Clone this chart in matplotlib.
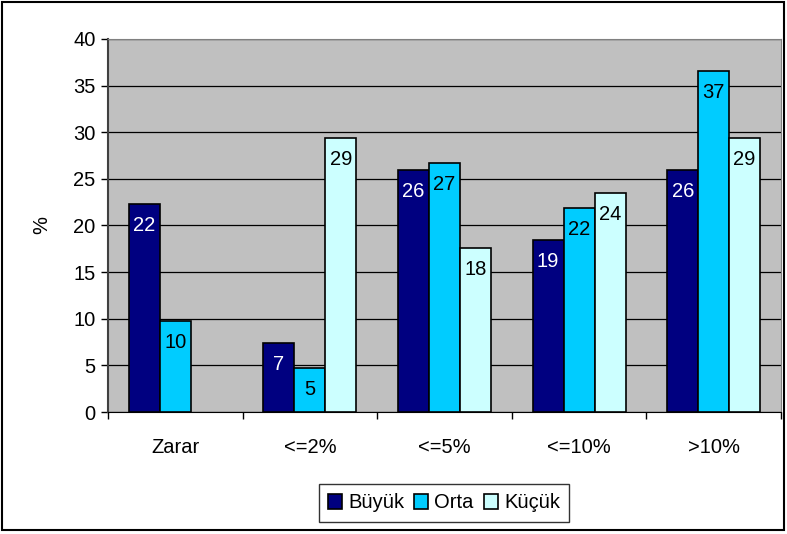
import numpy as np
import matplotlib
matplotlib.use("Agg")
import matplotlib.pyplot as plt
from matplotlib.patches import Rectangle

# ── Data ──────────────────────────────────────────────────────────────────────
categories = ["Zarar", "<=2%", "<=5%", "<=10%", ">10%"]
series     = ["Büyük", "Orta", "Küçük"]
buyuk = [22.3, 7.4, 25.9, 18.4, 25.9]
orta  = [9.8, 4.7, 26.7, 21.9, 36.6]
kucuk = [np.nan, 29.4, 17.6, 23.5, 29.4]   # no bar for Zarar
labels_buyuk = ["22", "7", "26", "19", "26"]
labels_orta  = ["10", "5", "27", "22", "37"]
labels_kucuk = ["", "29", "18", "24", "29"]

colors      = ["#000080", "#00CCFF", "#CCFFFF"]
text_colors = ["white", "black", "black"]
FS = 14.5

plt.rcParams["font.family"] = ["Liberation Sans", "DejaVu Sans"]

fig = plt.figure(figsize=(7.87, 5.34), dpi=100)
ax = fig.add_axes([108/787, 1-412/534, 673/787, 373/534])
ax.set_facecolor("#C0C0C0")

x = np.arange(len(categories))
w = 0.23
all_vals   = [buyuk, orta, kucuk]
all_labels = [labels_buyuk, labels_orta, labels_kucuk]
for i, (vals, labs) in enumerate(zip(all_vals, all_labels)):
    pos = x + (i - 1) * w
    bars = ax.bar(pos, vals, w, color=colors[i], edgecolor="black",
                  linewidth=1.2, label=series[i], zorder=3)
    for b, v, lab in zip(bars, vals, labs):
        if not lab:
            continue
        # labels sit inside the bar, just under its top
        ax.text(b.get_x() + b.get_width()/2, v - 2.3, lab, ha="center", va="center",
                color=text_colors[i], fontsize=FS, zorder=4)

ax.set_xlim(-0.5, len(categories) - 0.5)
ax.set_ylim(0, 40)
ax.set_yticks(range(0, 41, 5))
ax.yaxis.grid(True, color="black", linewidth=0.9, zorder=1)
ax.set_axisbelow(True)
ax.tick_params(axis="y", labelsize=FS, length=5, width=1, direction="out", pad=4)

ax.set_xticks(x)
ax.set_xticklabels(categories, fontsize=FS)
ax.set_xticks(np.arange(-0.5, len(categories)), minor=True)
ax.tick_params(axis="x", which="major", length=0, pad=19)
ax.tick_params(axis="x", which="minor", length=5, width=1)

ax.set_ylabel("%", fontsize=FS, labelpad=16)

ax.spines["top"].set_color("#808080")
ax.spines["right"].set_color("#808080")
ax.spines["left"].set_color("#404040")
ax.spines["left"].set_linewidth(1.5)
ax.spines["bottom"].set_color("black")

leg = fig.legend(loc="center", bbox_to_anchor=(444/787, 1-503/534), ncol=3,
                 fontsize=FS, frameon=True, fancybox=False, edgecolor="black",
                 handlelength=0.7, handleheight=0.7, handletextpad=0.3,
                 columnspacing=0.5, borderpad=0.45)
leg.get_frame().set_linewidth(1.0)

# outer chart frame
fig.patches.append(Rectangle((2/787, 4/534), 782/787, 528/534, transform=fig.transFigure,
                             fill=False, edgecolor="black", linewidth=1.5))

fig.savefig("out.png", dpi=100)
